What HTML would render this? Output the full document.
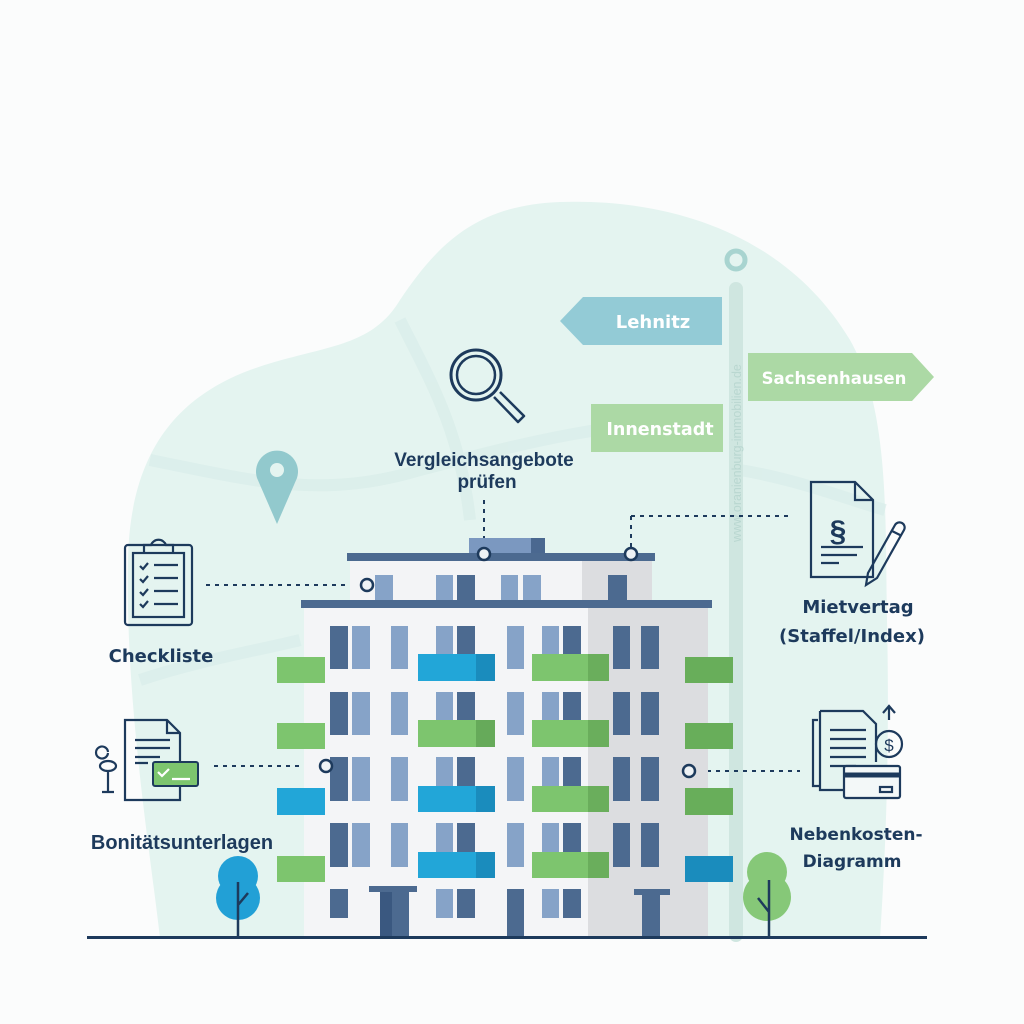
<!DOCTYPE html>
<html><head><meta charset="utf-8"><style>
html,body{margin:0;padding:0;background:#fbfcfc;}
svg{display:block;}
text{font-family:"Liberation Sans",sans-serif;}
.dj{font-family:"DejaVu Sans","Liberation Sans",sans-serif;}
</style></head><body>
<svg width="1024" height="1024" viewBox="0 0 1024 1024" xmlns="http://www.w3.org/2000/svg">
<rect width="1024" height="1024" fill="#fbfcfc"/>
<path d="M160 938 C150 850 125 700 128 560 C130 460 170 400 250 370 C320 345 370 350 400 300 C440 240 480 205 560 202 C680 198 790 240 850 340 C890 410 885 520 887 620 C890 760 885 860 880 938 Z" fill="#e4f4f0"/>
<g stroke="#d9ede9" stroke-width="12" fill="none" opacity="0.7">
<path d="M150 460 C250 480 320 500 420 470 C500 450 600 420 720 420"/>
<path d="M400 320 C430 380 460 430 470 520"/>
<path d="M740 470 C800 480 850 500 885 510"/>
<path d="M140 680 C200 660 260 650 300 640"/>
</g>
<rect x="729" y="282" width="14" height="660" rx="7" fill="#cfe6e0"/>
<circle cx="736" cy="260" r="9" fill="none" stroke="#a8d4d0" stroke-width="5"/>
<text transform="translate(741 542) rotate(-90)" font-size="12.5" fill="#b9d7d0">www.oranienburg-immobilien.de</text>
<polygon points="722,297 583,297 560,321 583,345 722,345" fill="#93cbd6"/>
<text class="dj" x="653" y="328" font-size="18" font-weight="bold" fill="#fff" text-anchor="middle">Lehnitz</text>
<polygon points="748,353 912,353 934,377 912,401 748,401" fill="#acd9a5"/>
<text class="dj" x="834" y="384" font-size="16.5" font-weight="bold" fill="#fff" text-anchor="middle">Sachsenhausen</text>
<rect x="591" y="404" width="132" height="48" fill="#acd9a5"/>
<text class="dj" x="660" y="435" font-size="17.5" font-weight="bold" fill="#fff" text-anchor="middle">Innenstadt</text>
<circle cx="476" cy="375" r="25" fill="none" stroke="#1d3a5c" stroke-width="3"/>
<circle cx="476" cy="375" r="19" fill="none" stroke="#1d3a5c" stroke-width="2.5"/>
<path d="M494 397 L518 422 L524 416 L500 392" fill="none" stroke="#1d3a5c" stroke-width="2.5" stroke-linejoin="round"/>
<text x="484" y="466" font-size="19" font-weight="bold" fill="#1d3a5c" text-anchor="middle">Vergleichsangebote</text>
<text x="487" y="488" font-size="19" font-weight="bold" fill="#1d3a5c" text-anchor="middle">prüfen</text>
<path d="M277 524 L257 478 A21 21 0 1 1 297 478 Z" fill="#92c9cd"/>
<circle cx="277" cy="470" r="7" fill="#e4f4f0"/>
<g stroke="#1d3a5c" stroke-width="2" stroke-dasharray="4 5" fill="none">
<line x1="484" y1="500" x2="484" y2="546"/>
<line x1="631" y1="516" x2="790" y2="516"/>
<line x1="631" y1="516" x2="631" y2="548"/>
<line x1="206" y1="585" x2="360" y2="585"/>
<line x1="214" y1="766" x2="318" y2="766"/>
<line x1="698" y1="771" x2="800" y2="771"/>
</g>
<rect x="469" y="538" width="76" height="16" fill="#7b98c0"/>
<rect x="531" y="538" width="14" height="16" fill="#4a6890"/>
<rect x="350" y="558" width="302" height="44" fill="#f3f4f6"/>
<rect x="582" y="558" width="70" height="44" fill="#dcdde0"/>
<rect x="347" y="553" width="308" height="8" fill="#4c6a90"/>
<g fill="#86a3c8"><rect x="375" y="575" width="18" height="27"/><rect x="436" y="575" width="17" height="27"/><rect x="501" y="575" width="17" height="27"/><rect x="523" y="575" width="18" height="27"/></g>
<g fill="#4c6a90"><rect x="457" y="575" width="18" height="27"/><rect x="608" y="575" width="19" height="27"/></g>
<rect x="304" y="606" width="404" height="332" fill="#f4f5f7"/>
<rect x="588" y="606" width="120" height="332" fill="#dcdde0"/>
<rect x="301" y="600" width="411" height="8" fill="#4c6a90"/>
<g fill="#4c6a90">
<rect x="330" y="626" width="18" height="43"/><rect x="457" y="626" width="18" height="43"/><rect x="563" y="626" width="18" height="43"/><rect x="613" y="626" width="17" height="43"/><rect x="641" y="626" width="18" height="43"/>
<rect x="330" y="692" width="18" height="43"/><rect x="457" y="692" width="18" height="43"/><rect x="563" y="692" width="18" height="43"/><rect x="613" y="692" width="17" height="43"/><rect x="641" y="692" width="18" height="43"/>
<rect x="330" y="757" width="18" height="44"/><rect x="457" y="757" width="18" height="44"/><rect x="563" y="757" width="18" height="44"/><rect x="613" y="757" width="17" height="44"/><rect x="641" y="757" width="18" height="44"/>
<rect x="330" y="823" width="18" height="44"/><rect x="457" y="823" width="18" height="44"/><rect x="563" y="823" width="18" height="44"/><rect x="613" y="823" width="17" height="44"/><rect x="641" y="823" width="18" height="44"/>
<rect x="330" y="889" width="18" height="29"/><rect x="457" y="889" width="18" height="29"/><rect x="563" y="889" width="18" height="29"/><rect x="507" y="889" width="17" height="49"/>
</g>
<g fill="#86a3c8">
<rect x="352" y="626" width="18" height="43"/><rect x="391" y="626" width="17" height="43"/><rect x="436" y="626" width="17" height="43"/><rect x="507" y="626" width="17" height="43"/><rect x="542" y="626" width="17" height="43"/>
<rect x="352" y="692" width="18" height="43"/><rect x="391" y="692" width="17" height="43"/><rect x="436" y="692" width="17" height="43"/><rect x="507" y="692" width="17" height="43"/><rect x="542" y="692" width="17" height="43"/>
<rect x="352" y="757" width="18" height="44"/><rect x="391" y="757" width="17" height="44"/><rect x="436" y="757" width="17" height="44"/><rect x="507" y="757" width="17" height="44"/><rect x="542" y="757" width="17" height="44"/>
<rect x="352" y="823" width="18" height="44"/><rect x="391" y="823" width="17" height="44"/><rect x="436" y="823" width="17" height="44"/><rect x="507" y="823" width="17" height="44"/><rect x="542" y="823" width="17" height="44"/>
<rect x="436" y="889" width="17" height="29"/><rect x="542" y="889" width="17" height="29"/>
</g>
<rect x="369" y="886" width="48" height="6" fill="#4c6a90"/><rect x="380" y="892" width="29" height="46" fill="#4c6a90"/><rect x="380" y="892" width="12" height="46" fill="#3a5880"/>
<rect x="634" y="889" width="36" height="6" fill="#4c6a90"/><rect x="642" y="895" width="18" height="43" fill="#4c6a90"/>
<g>
<rect x="277" y="657" width="48" height="26" fill="#7dc56e"/>
<rect x="277" y="723" width="48" height="26" fill="#7dc56e"/>
<rect x="277" y="788" width="48" height="27" fill="#22a6d8"/>
<rect x="277" y="856" width="48" height="26" fill="#7dc56e"/>
<rect x="418" y="654" width="77" height="27" fill="#22a6d8"/><rect x="476" y="654" width="19" height="27" fill="#1a8cbd"/>
<rect x="418" y="720" width="77" height="27" fill="#7dc56e"/><rect x="476" y="720" width="19" height="27" fill="#66aa5a"/>
<rect x="418" y="786" width="77" height="26" fill="#22a6d8"/><rect x="476" y="786" width="19" height="26" fill="#1a8cbd"/>
<rect x="418" y="852" width="77" height="26" fill="#22a6d8"/><rect x="476" y="852" width="19" height="26" fill="#1a8cbd"/>
<rect x="532" y="654" width="77" height="27" fill="#7dc56e"/><rect x="588" y="654" width="21" height="27" fill="#6aae5c"/>
<rect x="532" y="720" width="77" height="27" fill="#7dc56e"/><rect x="588" y="720" width="21" height="27" fill="#6aae5c"/>
<rect x="532" y="786" width="77" height="26" fill="#7dc56e"/><rect x="588" y="786" width="21" height="26" fill="#6aae5c"/>
<rect x="532" y="852" width="77" height="26" fill="#7dc56e"/><rect x="588" y="852" width="21" height="26" fill="#6aae5c"/>
<rect x="685" y="657" width="48" height="26" fill="#68ae5a"/>
<rect x="685" y="723" width="48" height="26" fill="#68ae5a"/>
<rect x="685" y="788" width="48" height="27" fill="#68ae5a"/>
<rect x="685" y="856" width="48" height="26" fill="#1a8cbd"/>
</g>
<g fill="#eef2f5" stroke="#1d3a5c" stroke-width="2.5">
<circle cx="484" cy="554" r="6"/><circle cx="631" cy="554" r="6"/><circle cx="367" cy="585" r="6"/><circle cx="326" cy="766" r="6"/><circle cx="689" cy="771" r="6"/>
</g>
<circle cx="238" cy="876" r="20" fill="#22a0d6"/><circle cx="238" cy="898" r="22" fill="#22a0d6"/>
<path d="M238 882 L238 938 M238 905 L248 893" stroke="#1d3a5c" stroke-width="2.5" fill="none"/>
<circle cx="767" cy="872" r="20" fill="#86c878"/><circle cx="767" cy="897" r="24" fill="#86c878"/>
<path d="M769 880 L769 938 M769 912 L758 898" stroke="#1d3a5c" stroke-width="2.5" fill="none"/>
<rect x="87" y="936" width="840" height="3" fill="#1d3a5c"/>
<g fill="none" stroke="#1d3a5c" stroke-width="2.2">
<rect x="125" y="545" width="67" height="80" rx="3"/>
<rect x="133" y="553" width="51" height="64"/>
<path d="M144 553 L144 545 L151 545 A8 8 0 0 1 166 545 L173 545 L173 553"/>
<path d="M140 566 l3 3 l5 -6 M140 579 l3 3 l5 -6 M140 592 l3 3 l5 -6 M140 604 l3 3 l5 -6"/>
<path d="M154 565 H178 M154 578 H178 M154 591 H178 M154 604 H178"/>
</g>
<text class="dj" x="161" y="662" font-size="18" font-weight="bold" fill="#1d3a5c" text-anchor="middle">Checkliste</text>
<g fill="none" stroke="#1d3a5c" stroke-width="2.2">
<path d="M125 720 H167 L180 733 V800 H125 Z M167 720 V733 H180"/>
<path d="M135 740 H170 M135 748 H170 M135 757 H160 M135 763 H148"/>
<path d="M108 753 A6 6 0 1 1 108 752 M100 766 A8 5 0 1 0 116 766 A8 5 0 1 0 100 766 M108 771 V792 M102 792 H114"/>
</g>
<rect x="153" y="762" width="45" height="24" rx="2" fill="#7dc56e" stroke="#1d3a5c" stroke-width="2"/>
<path d="M158 772 l4 4 l7 -7 M172 779 H190" stroke="#fff" stroke-width="2.2" fill="none"/>
<text x="182" y="849" font-size="20" font-weight="bold" fill="#1d3a5c" text-anchor="middle">Bonitätsunterlagen</text>
<g fill="none" stroke="#1d3a5c" stroke-width="2.2">
<path d="M811 482 H855 L873 500 V577 H811 Z M855 482 V500 H873"/>
<path d="M821 547 H863 M821 555 H857 M821 563 H839"/>
<path d="M868 573 L895 525 A5 5 0 0 1 904 530 L877 578 L866 585 Z M892 531 L900 535"/>
</g>
<text x="838" y="541" font-size="30" font-weight="bold" fill="#1d3a5c" text-anchor="middle" font-family="Liberation Serif">§</text>
<text class="dj" x="858" y="613" font-size="18" font-weight="bold" fill="#1d3a5c" text-anchor="middle">Mietvertag</text>
<text class="dj" x="852" y="642" font-size="18" font-weight="bold" fill="#1d3a5c" text-anchor="middle">(Staffel/Index)</text>
<g fill="none" stroke="#1d3a5c" stroke-width="2.2">
<path d="M818 720 H813 V786 H820"/>
<path d="M820 711 H863 L876 724 V762 M820 711 V790 H844"/>
<path d="M830 730 H866 M830 739 H866 M830 748 H866 M830 757 H866 M830 766 H856"/>
<circle cx="889" cy="744" r="13"/>
<path d="M889 720 V707 M883 713 L889 706 L895 713"/>
<rect x="844" y="766" width="56" height="32" rx="2" fill="#f3f8f8"/>
<path d="M844 775 H900" stroke-width="5"/>
<rect x="880" y="787" width="12" height="5"/>
</g>
<text x="889" y="751" font-size="17" fill="#1d3a5c" text-anchor="middle">$</text>
<text class="dj" x="856" y="840" font-size="17" font-weight="bold" fill="#1d3a5c" text-anchor="middle">Nebenkosten-</text>
<text class="dj" x="852" y="867" font-size="17" font-weight="bold" fill="#1d3a5c" text-anchor="middle">Diagramm</text>
</svg>
</body></html>
